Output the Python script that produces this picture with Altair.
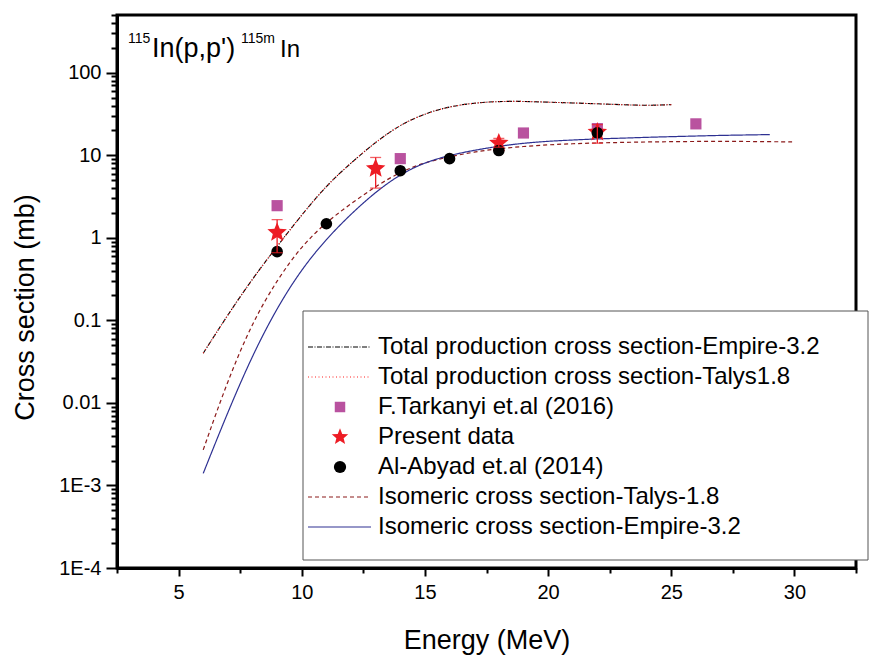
import altair as alt
import pandas as pd

# ---- calculated excitation functions (energy in MeV, cross section in mb) ----
total_energy = [6, 7, 8, 9, 10, 11, 12, 13, 14, 15, 16, 17, 18, 19, 20, 21, 22, 23, 24, 25]
total_empire = [0.04, 0.117, 0.32, 0.79, 1.9, 4.3, 8.1, 14.5, 23.5, 32, 39, 43, 45, 45, 44, 43, 42, 41, 40, 41]
total_talys = [0.04, 0.117, 0.32, 0.79, 1.9, 4.3, 8.1, 14.5, 23.5, 32, 39, 43, 45, 45, 44, 43, 42, 41, 40, 41]

iso_talys_energy = [6, 7, 8, 9, 10, 11, 12, 13, 14, 15, 16, 17, 18, 19, 20, 21, 22, 23, 24, 25, 26, 27, 28, 29, 30]
iso_talys = [0.0027, 0.019, 0.095, 0.31, 0.8, 1.55, 2.6, 4.2, 6.3, 8.2, 9.6, 11, 12, 12.8, 13.4, 13.8, 14.1,
             14.3, 14.5, 14.6, 14.7, 14.7, 14.7, 14.6, 14.5]

iso_empire_energy = [6, 7, 8, 9, 10, 11, 12, 13, 14, 15, 16, 17, 18, 19, 20, 21, 22, 23, 24, 25, 26, 27, 28, 29]
iso_empire = [0.0014, 0.0078, 0.038, 0.143, 0.42, 0.97, 1.95, 3.6, 5.9, 8.2, 10, 11.5, 12.9, 14, 14.8, 15.3,
              15.8, 16.1, 16.5, 16.8, 17.1, 17.4, 17.6, 17.8]

# ---- measured data ----
tarkanyi_energy = [9, 14, 19, 22, 26]
tarkanyi_xs = [2.45, 9.1, 18.6, 21, 24]

present_energy = [9, 13, 18, 22]
present_xs = [1.16, 6.9, 14, 19]
present_lo = [0.66, 4.0, 12.5, 14]
present_hi = [1.66, 9.4, 16, 23.5]

abyad_energy = [9, 11, 14, 16, 18, 22]
abyad_xs = [0.68, 1.48, 6.5, 9.1, 11.4, 18.7]

legend_labels = [
    "Total production cross section-Empire-3.2",
    "Total production cross section-Talys1.8",
    "F.Tarkanyi et.al (2016)",
    "Present data",
    "Al-Abyad et.al (2014)",
    "Isomeric cross section-Talys-1.8",
    "Isomeric cross section-Empire-3.2",
]

FONT = "Liberation Sans"
W, H = 739, 553

# five-pointed star in the unit box used by Vega symbol paths
STAR = ("M0,-1 L0.26,-0.36 L0.951,-0.309 L0.42,0.137 L0.5878,0.809 L0,0.44 "
        "L-0.5878,0.809 L-0.42,0.137 L-0.951,-0.309 L-0.26,-0.36 Z")

# ---- scales and axes ----
decade = "abs(log(datum.value)/LN10 - round(log(datum.value)/LN10)) < 1e-6"
y_ticks = [10.0 ** d if k == 1 else k * 10.0 ** d
           for d in range(-4, 3) for k in range(1, 10) if k * 10.0 ** d <= 500]
x_ticks = [2.5 + 2.5 * i for i in range(13)]

x_scale = alt.Scale(domain=[2.5, 32.5], nice=False, zero=False)
y_scale = alt.Scale(type="log", domain=[1e-4, 500], nice=False)

x_axis = alt.Axis(
    values=x_ticks,
    labelExpr="datum.value % 5 == 0 ? datum.value : ''",
    tickSize={"condition": {"test": "datum.value % 5 == 0", "value": 8}, "value": 5},
    grid=False, domainColor="black", domainWidth=3, tickColor="black", tickWidth=2,
    labelFont=FONT, labelFontSize=20, labelColor="black", labelPadding=6, labelOverlap=False,
    title="Energy (MeV)", titleFont=FONT, titleFontSize=27, titleFontWeight="normal",
    titleColor="black", titleY=80, titleBaseline="alphabetic",
)
y_axis = alt.Axis(
    values=y_ticks,
    labelExpr=f"{decade} ? (datum.value >= 0.01 ? '' + datum.value : '1E' + round(log(datum.value)/LN10)) : ''",
    tickSize={"condition": {"test": decade, "value": 11}, "value": 6},
    grid=False, domainColor="black", domainWidth=3, tickColor="black", tickWidth=2,
    labelFont=FONT, labelFontSize=20, labelColor="black", labelPadding=5, labelOverlap=False,
    title="Cross section (mb)", titleFont=FONT, titleFontSize=27, titleFontWeight="normal",
    titleColor="black", titleX=-84, titleY=292, titleAngle=-90, titleBaseline="alphabetic",
)

X = alt.X("E:Q", scale=x_scale, axis=x_axis)
Y = alt.Y("xs:Q", scale=y_scale, axis=y_axis)


def curve(energy, xs, color, dash, width):
    df = pd.DataFrame({"E": energy, "xs": xs})
    return alt.Chart(df).mark_line(
        color=color, strokeDash=dash, strokeWidth=width, interpolate="basis"
    ).encode(x=X, y=Y)


curves = [
    curve(total_energy, total_empire, "black", [5, 1.5, 1, 1.5], 1.1),
    curve(total_energy, total_talys, "#ff2020", [1, 2.5], 1.1),
    curve(iso_talys_energy, iso_talys, "#8b1a1a", [4, 3], 1.2),
    curve(iso_empire_energy, iso_empire, "#2e3192", [1, 0], 1.2),
]

tark_df = pd.DataFrame({"E": tarkanyi_energy, "xs": tarkanyi_xs})
pres_df = pd.DataFrame({"E": present_energy, "xs": present_xs, "lo": present_lo, "hi": present_hi})
abyad_df = pd.DataFrame({"E": abyad_energy, "xs": abyad_xs})

squares = alt.Chart(tark_df).mark_point(
    shape="square", filled=True, color="#b9529f", opacity=1, size=125
).encode(x=X, y=Y)
stars = alt.Chart(pres_df).mark_point(
    shape=STAR, filled=True, color="#ed1c24", opacity=1, size=420
).encode(x=X, y=Y)
circles = alt.Chart(abyad_df).mark_point(
    shape="circle", filled=True, color="black", opacity=1, size=135
).encode(x=X, y=Y)
err_rule = alt.Chart(pres_df).mark_rule(color="#ed1c24", strokeWidth=1.3).encode(
    x=X, y=alt.Y("lo:Q", scale=y_scale, axis=y_axis), y2="hi:Q"
)
err_cap_lo = alt.Chart(pres_df).mark_tick(color="#ed1c24", orient="horizontal", size=11, thickness=1.3).encode(
    x=X, y=alt.Y("lo:Q", scale=y_scale, axis=y_axis)
)
err_cap_hi = alt.Chart(pres_df).mark_tick(color="#ed1c24", orient="horizontal", size=11, thickness=1.3).encode(
    x=X, y=alt.Y("hi:Q", scale=y_scale, axis=y_axis)
)

# ---- legend box ----
ox, oy = 117, 15
one = pd.DataFrame({"a": [0]})
legend_box = alt.Chart(one).mark_rect(
    fill="white", stroke="#555555", strokeWidth=1
).encode(x=alt.value(303 - ox), x2=alt.value(868 - ox), y=alt.value(311 - oy), y2=alt.value(560 - oy))

leg_layers = []
row_y = [347 + 30 * i - oy for i in range(len(legend_labels))]
line_styles = {
    0: ("black", [5, 1.5, 1, 1.5]),
    1: ("#ff2020", [1, 2.5]),
    5: ("#8b1a1a", [4, 3]),
    6: ("#2e3192", [1, 0]),
}
for i, text in enumerate(legend_labels):
    if i in line_styles:
        col, dash = line_styles[i]
        leg_layers.append(
            alt.Chart(one).mark_rule(color=col, strokeDash=dash, strokeWidth=1.1).encode(
                x=alt.value(308 - ox), x2=alt.value(371 - ox), y=alt.value(row_y[i])
            )
        )
    leg_layers.append(
        alt.Chart(one).mark_text(
            text=text, align="left", baseline="middle", font=FONT, fontSize=24, color="black"
        ).encode(x=alt.value(378 - ox), y=alt.value(row_y[i]))
    )
sym = [(2, "square", "#b9529f", 110), (3, STAR, "#ed1c24", 300), (4, "circle", "black", 150)]
for i, shape, col, size in sym:
    leg_layers.append(
        alt.Chart(one).mark_point(shape=shape, filled=True, color=col, opacity=1, size=size).encode(
            x=alt.value(340 - ox), y=alt.value(row_y[i])
        )
    )


# ---- reaction label ----
def label(txt, x, y, size):
    return alt.Chart(one).mark_text(
        text=txt, align="left", baseline="alphabetic", font=FONT, fontSize=size, color="black"
    ).encode(x=alt.value(x - ox), y=alt.value(y - oy))


reaction = [
    label("115", 128, 43, 14),
    label("In(p,p')", 152, 57, 27),
    label("115m", 241, 43, 14),
    label("In", 280, 57, 24),
]

chart = alt.layer(
    *curves, legend_box, squares, stars, circles, err_rule, err_cap_lo, err_cap_hi, *leg_layers, *reaction
).properties(
    width=W, height=H,
    autosize=alt.AutoSizeParams(type="none"),
    padding={"left": ox, "top": oy, "right": 869 - ox - W, "bottom": 655 - oy - H},
    background="white",
).configure_view(stroke="black", strokeWidth=3)

chart.save("out.html", embed_options={"renderer": "svg", "actions": False})
